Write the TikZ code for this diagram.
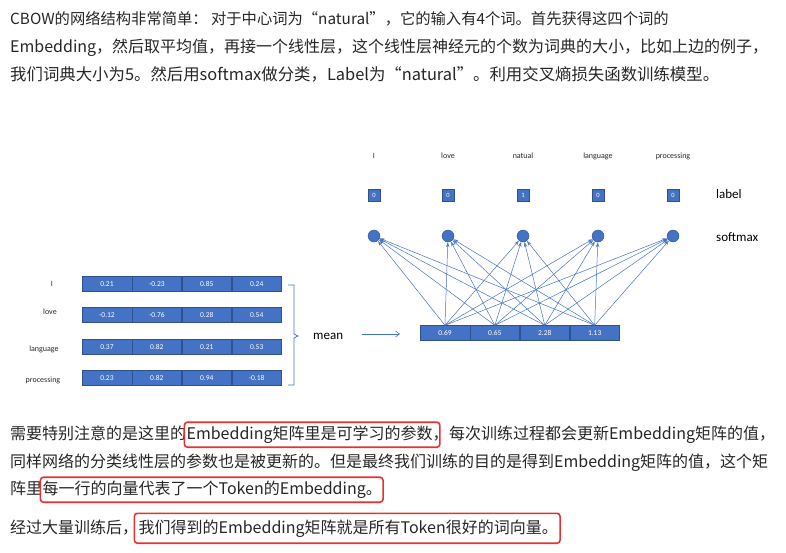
\documentclass[tikz,border=0pt]{standalone}
\usepackage{fontspec}
\setmainfont{Noto Sans CJK SC}
\newfontfamily\dg{Carlito}
\usetikzlibrary{arrows.meta}
\definecolor{cb}{HTML}{4472C4}
\definecolor{cbd}{HTML}{2F528F}
\definecolor{rb}{HTML}{E8312F}
\begin{document}
\begin{tikzpicture}[x=1pt,y=-1pt,
  tx/.style={inner sep=0pt,anchor=base west,font=\fontsize{16}{18}\selectfont,text=black!85},
  hl/.style={draw=rb,line width=1.6pt,rounded corners=3pt},
  cell/.style={draw=cbd,fill=cb,text=white,minimum width=49.5pt,minimum height=15pt,inner sep=0pt,font=\dg\fontsize{7.5}{8}\selectfont,anchor=west},
  lab/.style={draw=cbd,fill=cb,text=white,minimum size=12pt,inner sep=0pt,font=\dg\fontsize{6.5}{7}\selectfont},
  wd/.style={font=\dg\fontsize{8}{9}\selectfont,text=black!85},
  dot/.style={circle,fill=cb,draw=cbd,minimum size=12pt,inner sep=0pt},
  ln/.style={draw=cb,line width=0.5pt,-{Stealth[length=5pt,width=3.5pt,open]}}]
\useasboundingbox (0,0) rectangle (786,552);
\node[tx,font=\fontsize{15.3}{16}\selectfont] (t1) at (10,24) {CBOW的网络结构非常简单： 对于中心词为“natural”，它的输入有4个词。首先获得这四个词的};
\node[tx] (t2) at (10,52) {Embedding，然后取平均值，再接一个线性层，这个线性层神经元的个数为词典的大小，比如上边的例子，};
\node[tx,font=\fontsize{16.4}{17}\selectfont] (t3) at (10,80) {我们词典大小为5。然后用softmax做分类，Label为“natural”。利用交叉熵损失函数训练模型。};
% paragraph 2
\node[tx] (p1a) at (10,439) {需要特别注意的是这里的};
\node[tx] (p1b) at (p1a.base east) {Embedding矩阵里是可学习的参数，};
\node[tx] (p1c) at (p1b.base east) {每次训练过程都会更新Embedding矩阵的值，};
\node[tx] (p2) at (10,467) {同样网络的分类线性层的参数也是被更新的。但是最终我们训练的目的是得到Embedding矩阵的值，这个矩};
\node[tx] (p3a) at (10,494) {阵里};
\node[tx] (p3b) at (p3a.base east) {每一行的向量代表了一个Token的Embedding。};
\node[tx] (p4a) at (10,533) {经过大量训练后，};
\node[tx] (p4b) at (p4a.base east) {我们得到的Embedding矩阵就是所有Token很好的词向量。};
\draw[hl] ([xshift=-2pt,yshift=3pt]p1b.north west) rectangle ([xshift=-9pt,yshift=-4pt]p1b.south east);
\draw[hl] ([xshift=-2pt,yshift=3pt]p3b.north west) rectangle ([xshift=1pt,yshift=-4pt]p3b.south east);
\draw[hl] ([xshift=-4pt,yshift=6pt]p4b.north west) rectangle ([xshift=2pt,yshift=-6pt]p4b.south east);
% left matrix
\foreach \r/\y/\lbl/\a/\b/\c/\d in {1/284/I/0.21/-0.23/0.85/0.24,2/315/love/-0.12/-0.76/0.28/0.54,3/347/language/0.37/0.82/0.21/0.53,4/378/processing/0.23/0.82/0.94/-0.18}{
  \node[cell] (m\r a) at (82,\y) {\a};
  \node[cell] (m\r b) at (m\r a.east) {\b};
  \node[cell] (m\r c) at (m\r b.east) {\c};
  \node[cell] (m\r d) at (m\r c.east) {\d};
}
\node[wd] (w1) at (52,284) {I};
\node[wd] (w2) at (50,312) {love};
\node[wd] (w3) at (44,349) {language};
\node[wd] (w4) at (43,380) {processing};
\draw[cb,line width=0.7pt] (288,285) -- (294,285) -- (294,334) -- (298,336) -- (294,338) -- (294,385) -- (288,385);
\node[font=\dg\fontsize{13}{14}\selectfont,anchor=west,inner sep=0pt] (mean) at (313,336) {mean};
\node[cell] (oa) at (420,333) {0.69};
\node[cell] (ob) at (oa.east) {0.65};
\node[cell] (oc) at (ob.east) {2.28};
\node[cell] (od) at (oc.east) {1.13};
\coordinate (ar) at (400,334);
\draw[cb,line width=0.6pt,-{Straight Barb[length=4pt,width=6pt]}] (362,334) -- (ar);
% output layer
\foreach \i/\x/\w/\v in {1/374/I/0,2/448/love/0,3/523/natual/1,4/598/language/0,5/673/processing/0}{
  \node[wd] (top\i) at (\x,156) {\w};
  \node[lab] (l\i) at (\x,195) {\v};
  \node[dot] (s\i) at (\x,236) {};
}
\node[font=\dg\fontsize{13}{14}\selectfont,anchor=west,inner sep=0pt] (labtxt) at (716,194) {label};
\node[font=\dg\fontsize{13}{14}\selectfont,anchor=west,inner sep=0pt] (smtxt) at (716,237) {softmax};
\foreach \c in {oa,ob,oc,od}{
  \foreach \i in {1,...,5}{
    \draw[ln] (\c.north) -- (s\i);
  }
}
\end{tikzpicture}
\end{document}
